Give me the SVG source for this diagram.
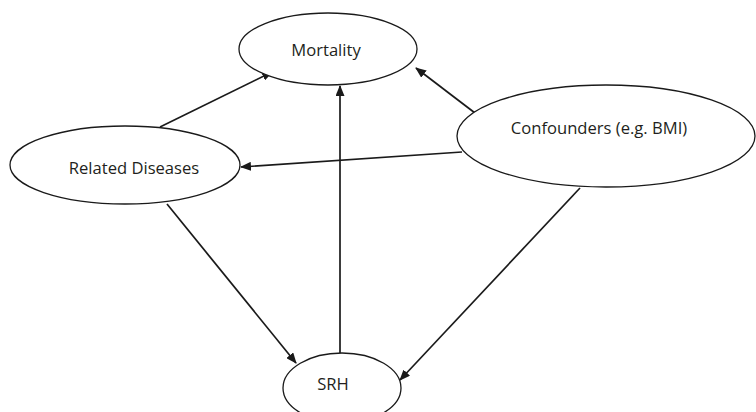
<svg xmlns="http://www.w3.org/2000/svg" width="756" height="412" viewBox="0 0 756 412">
<style>
.node ellipse{fill:#fff;stroke:#1a1a1a;stroke-width:1.3}
.node text{font-family:"Open Sans","Liberation Sans",sans-serif;font-size:16.6px;fill:#231f20;text-anchor:middle;dominant-baseline:central}
.edges line{stroke:#1a1a1a;stroke-width:1.7;marker-end:url(#ah)}
</style>
<defs>
<marker id="ah" markerWidth="11" markerHeight="9" refX="10" refY="4.5" orient="auto" markerUnits="userSpaceOnUse">
<path d="M0,0 L11,4.5 L0,9 Z" fill="#1a1a1a"/>
</marker>
</defs>
<rect width="756" height="412" fill="#fff"/>
<g class="edges">
<line x1="160" y1="127" x2="272" y2="72"/>
<line x1="475" y1="113" x2="416" y2="68"/>
<line x1="462" y1="152" x2="241" y2="167"/>
<line x1="580" y1="188" x2="400" y2="380"/>
<line x1="340" y1="353" x2="340" y2="86"/>
<line x1="167" y1="204" x2="296" y2="363"/>
</g>
<g class="node" id="mortality"><ellipse cx="328" cy="49" rx="89" ry="36"/><text x="326" y="49">Mortality</text></g>
<g class="node" id="related"><ellipse cx="125" cy="165" rx="115" ry="39"/><text x="134" y="167">Related Diseases</text></g>
<g class="node" id="confounders"><ellipse cx="606" cy="136" rx="149" ry="51"/><text x="599" y="127">Confounders (e.g. BMI)</text></g>
<g class="node" id="srh"><ellipse cx="342" cy="388" rx="59" ry="35"/><text x="333" y="383">SRH</text></g>
</svg>
